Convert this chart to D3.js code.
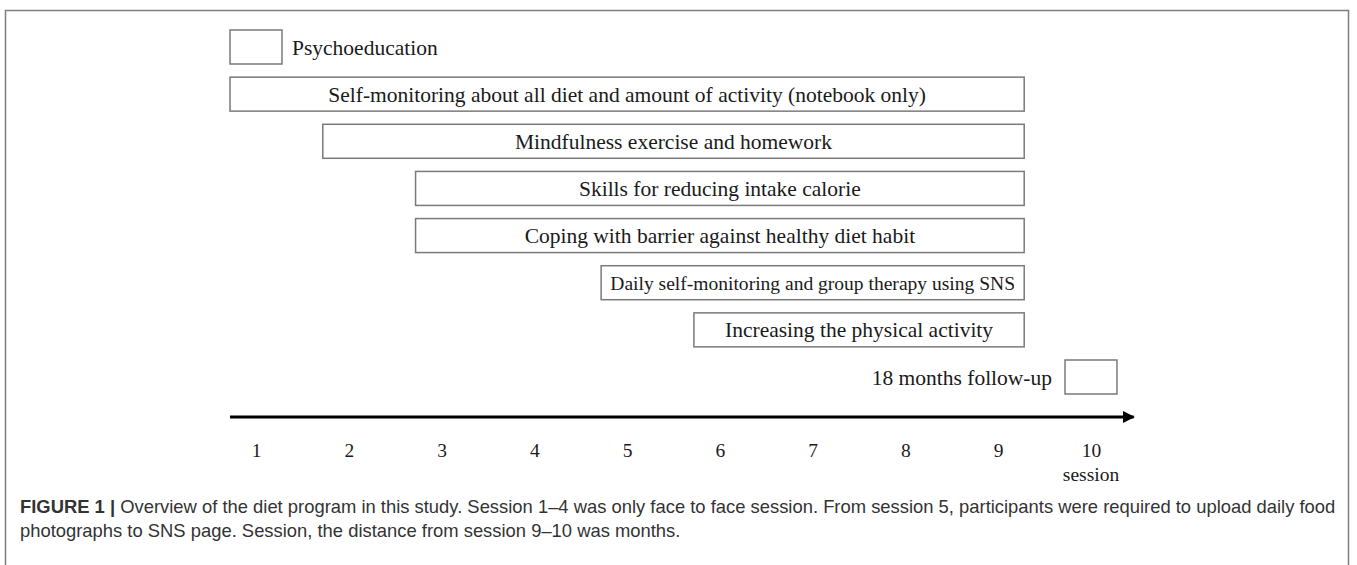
<!DOCTYPE html>
<html>
<head>
<meta charset="utf-8">
<script src="https://cdn.jsdelivr.net/npm/d3@7"></script>
<style>
  body { margin: 0; background: #fff; }
  .boxText { font-family: "Liberation Serif", "DejaVu Serif", serif; font-size: 21.5px; fill: #1a1a1a; }
  .tickText { font-family: "Liberation Serif", "DejaVu Serif", serif; font-size: 19.5px; fill: #1a1a1a; }
  .caption { font-family: "Liberation Sans", Arial, sans-serif; font-size: 18.4px; fill: #333; }
</style>
</head>
<body>
<div id="chart"></div>
<script>
// program components and the sessions they cover
var activities = [
  "Psychoeducation",
  "Self-monitoring about all diet and amount of activity (notebook only)",
  "Mindfulness exercise and homework",
  "Skills for reducing intake calorie",
  "Coping with barrier against healthy diet habit",
  "Daily self-monitoring and group therapy using SNS",
  "Increasing the physical activity",
  "18 months follow-up"
];
var startSession = [1, 1, 2, 3, 3, 5, 6, 10];
var endSession = [1, 9, 9, 9, 9, 9, 9, 10];

// axis ticks
var sessions = [1, 2, 3, 4, 5, 6, 7, 8, 9, 10];
var axisTitle = "session";

var captionBold = "FIGURE 1 |";
var captionLines = [
  " Overview of the diet program in this study. Session 1\u20134 was only face to face session. From session 5, participants were required to upload daily food",
  "photographs to SNS page. Session, the distance from session 9\u201310 was months."
];

var svgWidth = 1357;
var svgHeight = 565;

var svg = d3.select("#chart")
  .append("svg")
  .attr("width", svgWidth)
  .attr("height", svgHeight);

// outer frame
svg.append("rect")
  .attr("x", 5.5)
  .attr("y", 10.5)
  .attr("width", 1343)
  .attr("height", 600)
  .attr("fill", "none")
  .attr("stroke", "#7d7d7d")
  .attr("stroke-width", 1.5);

var xScale = d3.scaleLinear()
  .domain([1, 10])
  .range([256, 1091]);

var yScale = d3.scaleLinear()
  .domain([0, activities.length - 1])
  .range([30, 360]);

var boxHeight = 34;
var halfSpan = 0.28;
var baseFont = 21.5;

var rows = activities.map(function(d, i) {
  return { label: d, start: startSession[i], end: endSession[i], row: i };
});

var boxes = svg.append("g").selectAll("g")
  .data(rows)
  .enter()
  .append("g");

boxes.append("rect")
  .attr("x", d => xScale(d.start - halfSpan))
  .attr("y", d => yScale(d.row))
  .attr("width", d => xScale(d.end + halfSpan) - xScale(d.start - halfSpan))
  .attr("height", boxHeight)
  .attr("fill", "#fff")
  .attr("stroke", "#7a7a7a")
  .attr("stroke-width", 1.5);

var labels = boxes.append("text")
  .classed("boxText", true)
  .attr("x", d => {
    if (d.start === d.end) {
      // single session: label sits beside the box
      return d.start === sessions[0] ? xScale(d.end + halfSpan) + 10 : xScale(d.start - halfSpan) - 13;
    }
    return (xScale(d.start - halfSpan) + xScale(d.end + halfSpan)) / 2;
  })
  .attr("y", d => yScale(d.row) + boxHeight / 2)
  .attr("dy", "0.35em")
  .attr("text-anchor", d => {
    if (d.start === d.end) return d.start === sessions[0] ? "start" : "end";
    return "middle";
  })
  .text(d => d.label);

// shrink a label that would not fit inside its box
labels.each(function(d) {
  if (d.start === d.end) return;
  var room = xScale(d.end + halfSpan) - xScale(d.start - halfSpan) - 18;
  var len = this.getComputedTextLength();
  if (len > room) {
    d3.select(this).style("font-size", (baseFont * room / len) + "px");
  }
});

// time axis with arrow
var defs = svg.append("defs");
defs.append("marker")
  .attr("id", "arrow")
  .attr("viewBox", "0 0 10 10")
  .attr("refX", 9)
  .attr("refY", 5)
  .attr("markerWidth", 4)
  .attr("markerHeight", 4)
  .attr("markerUnits", "strokeWidth")
  .attr("orient", "auto")
  .append("path")
  .attr("d", "M0,0 L10,5 L0,10 Z")
  .attr("fill", "#000");

var axisY = 417;

svg.append("line")
  .attr("x1", xScale(sessions[0] - halfSpan))
  .attr("x2", xScale(sessions[sessions.length - 1] + 0.46))
  .attr("y1", axisY)
  .attr("y2", axisY)
  .attr("stroke", "#000")
  .attr("stroke-width", 3)
  .attr("marker-end", "url(#arrow)");

var bottomAxis = d3.axisBottom(xScale)
  .tickValues(sessions)
  .tickSize(0)
  .tickPadding(26)
  .tickFormat(d3.format("d"));

var xAxis = svg.append("g")
  .attr("transform", `translate(0, ${axisY})`)
  .call(bottomAxis);

xAxis.select(".domain").remove();
xAxis.selectAll("text")
  .attr("class", "tickText")
  .attr("font-family", null)
  .attr("font-size", null)
  .attr("fill", null);
xAxis.attr("font-family", null).attr("font-size", null);

svg.append("text")
  .classed("tickText", true)
  .attr("x", xScale(sessions[sessions.length - 1]))
  .attr("y", 481)
  .attr("text-anchor", "middle")
  .text(axisTitle);

// caption
var cap1 = svg.append("text")
  .classed("caption", true)
  .attr("x", 20)
  .attr("y", 513);
cap1.append("tspan")
  .attr("font-weight", "bold")
  .text(captionBold);
cap1.append("tspan")
  .text(captionLines[0]);

svg.append("text")
  .classed("caption", true)
  .attr("x", 20)
  .attr("y", 537)
  .text(captionLines[1]);
</script>
</body>
</html>
